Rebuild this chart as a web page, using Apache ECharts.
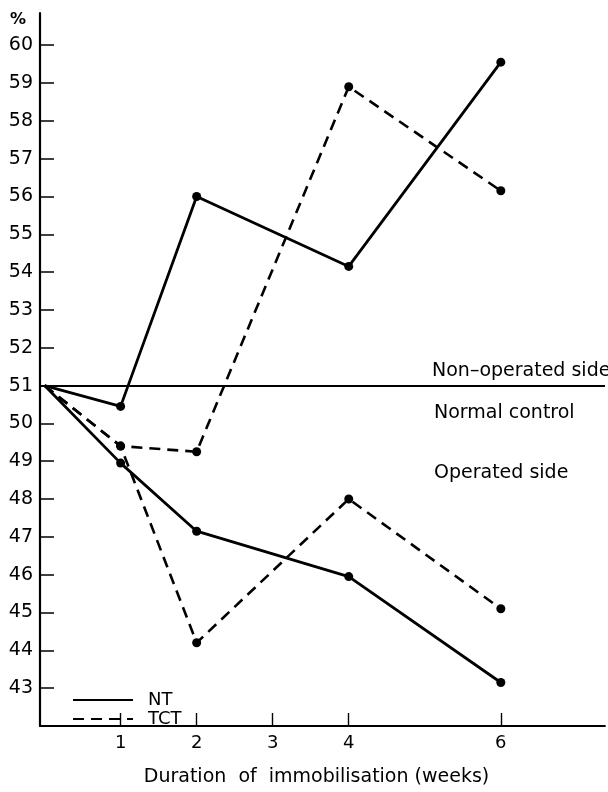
<!DOCTYPE html>
<html>
<head>
<meta charset="utf-8">
<script src="https://cdn.jsdelivr.net/npm/echarts@6/dist/echarts.min.js"></script>
<style>
  html, body { margin: 0; padding: 0; background: #fff; }
  #chart { width: 608px; height: 792px; }
</style>
</head>
<body>
<div id="chart"></div>
<script>
// Duration of immobilisation, in weeks (0 = starting value)
const weeks = [0, 1, 2, 4, 6];

// Percentage values per group
const ntNonOperated  = [51, 50.45, 56.0, 54.15, 59.55];
const tctNonOperated = [51, 49.4, 49.25, 58.9, 56.15];
const ntOperated     = [51, 48.95, 47.15, 45.95, 43.15];
const tctOperated    = [51, 49.4, 44.2, 48.0, 45.1];

const normalControl = 51;

const xTickValues = [1, 2, 3, 4, 6];
const yTickValues = [43, 44, 45, 46, 47, 48, 49, 50, 51, 52, 53, 54, 55, 56, 57, 58, 59, 60];

const FONT = 'DejaVu Sans';

function toPoints(values) {
  return weeks.map((w, i) => i === 0
    ? { value: [w, values[i]], symbol: 'none' }
    : [w, values[i]]);
}

const solid = { color: '#000', width: 2.8, type: 'solid' };
const dashed = { color: '#000', width: 2.6, type: [11, 7] };

function series(name, values, lineStyle) {
  return {
    name: name,
    type: 'line',
    data: toPoints(values),
    symbol: 'circle',
    symbolSize: 9,
    itemStyle: { color: '#000' },
    lineStyle: lineStyle,
    z: 3
  };
}

const chart = echarts.init(document.getElementById('chart'), null, { renderer: 'canvas' });

chart.setOption({
  animation: false,
  backgroundColor: '#fff',
  grid: { left: 40, right: 3, top: 13, bottom: 53, containLabel: false },
  legend: {
    data: ['NT', 'TCT'],
    orient: 'vertical',
    left: 72,
    top: 691,
    padding: 0,
    itemWidth: 60,
    itemHeight: 12,
    itemGap: 1,
    itemStyle: { opacity: 0 },
    textStyle: { fontFamily: FONT, fontSize: 18, lineHeight: 17, color: '#000', padding: [0, 0, 0, 10] }
  },
  xAxis: {
    type: 'value',
    min: -0.06,
    max: 7.37,
    name: 'Duration  of  immobilisation (weeks)',
    nameLocation: 'middle',
    nameGap: 42,
    nameTextStyle: { fontFamily: FONT, fontSize: 19, color: '#000', padding: [0, 12, 0, 0] },
    axisLine: { show: true, lineStyle: { color: '#000', width: 1.8 } },
    axisTick: { show: true, inside: true, length: 13, customValues: xTickValues, lineStyle: { color: '#000', width: 1.4 } },
    axisLabel: { customValues: xTickValues, margin: 8, fontFamily: FONT, fontSize: 18, color: '#000' },
    splitLine: { show: false }
  },
  yAxis: {
    type: 'value',
    min: 42,
    max: 60.85,
    axisLine: { show: true, onZero: false, lineStyle: { color: '#000', width: 2.2 } },
    axisTick: { show: true, inside: true, length: 14, customValues: yTickValues, lineStyle: { color: '#000', width: 1.5 } },
    axisLabel: { customValues: yTickValues, margin: 7, fontFamily: FONT, fontSize: 19, color: '#000' },
    splitLine: { show: false }
  },
  graphic: [
    { type: 'text', left: 10, top: 12, style: { text: '%', font: 'bold 16px ' + FONT, fill: '#000' } },
    { type: 'text', left: 432, top: 362, style: { text: 'Non\u2013operated side', font: '19px ' + FONT, fill: '#000' } },
    { type: 'text', left: 434, top: 404, style: { text: 'Normal control', font: '19px ' + FONT, fill: '#000' } },
    { type: 'text', left: 434, top: 464, style: { text: 'Operated side', font: '19px ' + FONT, fill: '#000' } }
  ],
  series: [
    Object.assign(series('NT', ntNonOperated, solid), {
      markLine: {
        silent: true,
        symbol: 'none',
        label: { show: false },
        lineStyle: { color: '#000', width: 1.8, type: 'solid' },
        data: [{ yAxis: normalControl }]
      }
    }),
    series('NT', ntOperated, solid),
    series('TCT', tctNonOperated, dashed),
    series('TCT', tctOperated, dashed)
  ]
});
</script>
</body>
</html>
